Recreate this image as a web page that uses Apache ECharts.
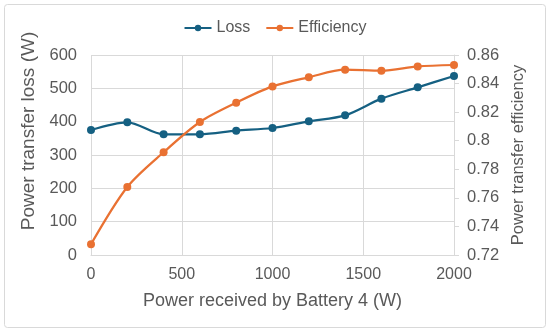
<!DOCTYPE html>
<html><head><meta charset="utf-8">
<script src="https://cdn.jsdelivr.net/npm/echarts@6/dist/echarts.min.js"></script>
<style>html,body{margin:0;padding:0;background:#fff}#c{width:550px;height:332px}</style>
</head><body><div id="c"></div>
<script>
const powerReceived = [0, 200, 400, 600, 800, 1000, 1200, 1400, 1600, 1800, 2000];
const lossValues = [375, 398, 362, 362, 373, 381, 401, 419, 469, 503, 537];
const efficiencyValues = [0.7275, 0.7676, 0.7919, 0.8131, 0.8266, 0.838, 0.8444, 0.8497, 0.849, 0.852, 0.853];

const chart = echarts.init(document.getElementById('c'), null, {renderer: 'canvas'});
const txt = '#595959';
const font = 'Liberation Sans, Arial, sans-serif';
chart.setOption({
  animation: false,
  backgroundColor: '#fff',
  graphic: [{type: 'rect', shape: {x: 4.5, y: 4.5, width: 541, height: 323, r: 3}, style: {fill: 'none', stroke: '#d9d9d9', lineWidth: 1}}],
  legend: {
    top: 15, left: 'center', itemWidth: 27, itemHeight: 8, itemGap: 15,
    textStyle: {color: txt, fontSize: 16, fontFamily: font},
    data: ['Loss', 'Efficiency']
  },
  grid: {left: 91, right: 96, top: 55, bottom: 77},
  xAxis: {
    type: 'value', min: 0, max: 2000, interval: 500,
    name: 'Power received by Battery 4 (W)', nameLocation: 'middle', nameGap: 37,
    nameTextStyle: {color: txt, fontSize: 18, fontFamily: font},
    axisLine: {show: true, lineStyle: {color: '#d9d9d9'}},
    axisTick: {show: false},
    axisLabel: {color: txt, fontSize: 16, fontFamily: font, margin: 12, formatter: v => String(v)},
    splitLine: {show: true, lineStyle: {color: '#d9d9d9'}}
  },
  yAxis: [{
    type: 'value', min: 0, max: 600, interval: 100,
    name: 'Power transfer loss (W)', nameLocation: 'middle', nameGap: 46, nameRotate: 90,
    nameTextStyle: {color: txt, fontSize: 19, fontFamily: font, padding: [0, 0, 0, 48]},
    axisLine: {show: false}, axisTick: {show: false},
    axisLabel: {color: txt, fontSize: 16.5, fontFamily: font, margin: 14},
    splitLine: {show: true, lineStyle: {color: '#d9d9d9'}}
  }, {
    type: 'value', min: 0.72, max: 0.86, interval: 0.02,
    name: 'Power transfer efficiency', nameLocation: 'middle', nameGap: 54, nameRotate: 90,
    nameTextStyle: {color: txt, fontSize: 16.5, fontFamily: font},
    axisLine: {show: true, lineStyle: {color: '#d9d9d9'}},
    axisTick: {show: true, length: 5, lineStyle: {color: '#d9d9d9'}},
    axisLabel: {color: txt, fontSize: 16.5, fontFamily: font, margin: 13, formatter: v => String(+v.toFixed(2))},
    splitLine: {show: false}
  }],
  series: [{
    name: 'Loss', type: 'line', yAxisIndex: 0, smooth: 0.3,
    data: powerReceived.map((x, i) => [x, lossValues[i]]),
    symbol: 'circle', symbolSize: 8,
    itemStyle: {color: '#156082'}, lineStyle: {color: '#156082', width: 2.25}
  }, {
    name: 'Efficiency', type: 'line', yAxisIndex: 1, smooth: 0.3,
    data: powerReceived.map((x, i) => [x, efficiencyValues[i]]),
    symbol: 'circle', symbolSize: 8,
    itemStyle: {color: '#E97132'}, lineStyle: {color: '#E97132', width: 2.25}
  }]
});
</script></body></html>
